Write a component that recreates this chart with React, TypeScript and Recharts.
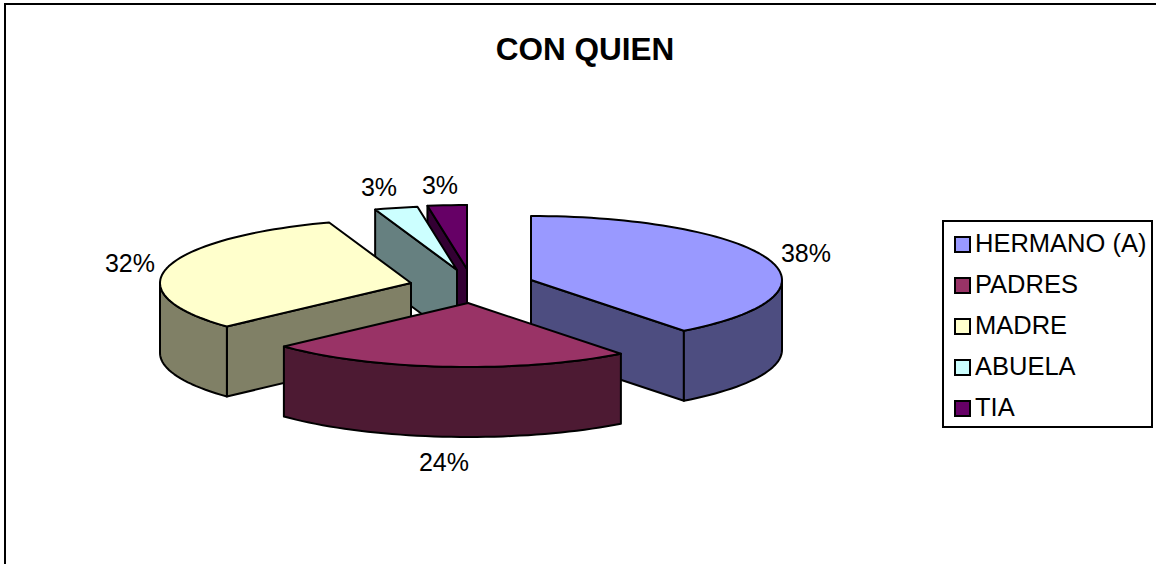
import { Pie, PieChart } from 'recharts'

const categories = ['HERMANO (A)', 'PADRES', 'MADRE', 'ABUELA', 'TIA']
const counts = [13, 8, 11, 1, 1]
const topColors = ['#9999FF', '#993366', '#FFFFCC', '#CCFFFF', '#660066']
const wallColors = ['#4D4D80', '#4D1A33', '#808066', '#668080', '#330033']

// back to front, the pie is flat so the library order is not the depth order
const drawOrder = ['TIA', 'ABUELA', 'MADRE', 'HERMANO (A)', 'PADRES']

const data = categories.map((name, i) => ({
  name,
  value: counts[i],
  fill: topColors[i],
  wall: wallColors[i],
}))

const RY = 64
const DEPTH = 70
const FONT = 'Liberation Sans, Arial, sans-serif'

// how far each slice is pulled out of the pie
const explode: Record<string, [number, number]> = {
  'HERMANO (A)': [63, 12],
  PADRES: [0, 35],
  MADRE: [-57, 15],
  ABUELA: [-11, 2],
  TIA: [-1, 1],
}

const labelAt: Record<string, [number, number]> = {
  'HERMANO (A)': [806, 262],
  PADRES: [444, 471],
  MADRE: [130, 272],
  ABUELA: [379, 196],
  TIA: [440, 194],
}

const rad = (d: number) => (d * Math.PI) / 180

// clockwise from the top, the slices lean a little because of the perspective
const warp = (t: number) => t + 5 * Math.sqrt(Math.abs(Math.sin(rad(t / 2))))

function Slice3D(props: any) {
  const { cx, cy, outerRadius, startAngle, endAngle, name, fill, payload } = props
  const [dx, dy] = explode[name]
  const x0 = cx + dx
  const y0 = cy + dy
  const t0 = warp(90 - startAngle)
  const t1 = warp(90 - endAngle)
  const px = (t: number) => x0 + outerRadius * Math.sin(rad(t))
  const py = (t: number) => y0 - RY * Math.cos(rad(t))
  const arc = (a: number, b: number, off = 0) => {
    const pts: string[] = []
    const n = Math.max(1, Math.ceil((b - a) / 2))
    for (let i = 0; i <= n; i++) {
      const t = a + ((b - a) * i) / n
      pts.push(`${px(t)},${py(t) + off}`)
    }
    return pts
  }
  const radial = (t: number) =>
    `${x0},${y0} ${px(t)},${py(t)} ${px(t)},${py(t) + DEPTH} ${x0},${y0 + DEPTH}`
  const shared = { stroke: '#000', strokeWidth: 2, strokeLinejoin: 'round' as const }
  const wall = payload?.wall ?? props.wall
  const a = Math.max(t0, 90)
  const b = Math.min(t1, 270)
  return (
    <g>
      {Math.sin(rad(t0)) < 0 && <polygon points={radial(t0)} fill={wall} {...shared} />}
      {Math.sin(rad(t1)) > 0 && <polygon points={radial(t1)} fill={wall} {...shared} />}
      {a < b && (
        <polygon
          points={[...arc(a, b), ...arc(a, b, DEPTH).reverse()].join(' ')}
          fill={wall}
          {...shared}
        />
      )}
      <polygon points={[`${x0},${y0}`, ...arc(t0, t1)].join(' ')} fill={fill} {...shared} />
    </g>
  )
}

function LegendBox() {
  return (
    <div
      style={{
        position: 'absolute',
        left: 942,
        top: 220,
        width: 207,
        height: 204,
        border: '2px solid #000',
        background: '#fff',
        fontFamily: FONT,
        fontSize: 25.5,
        color: '#000',
      }}
    >
      {data.map((d, i) => (
        <div
          key={d.name}
          style={{
            position: 'absolute',
            left: 10,
            top: 21 + i * 41 - 15,
            height: 30,
            lineHeight: '30px',
            whiteSpace: 'nowrap',
          }}
        >
          <span
            style={{
              position: 'absolute',
              left: 0,
              top: 8,
              width: 13,
              height: 13,
              border: '2px solid #000',
              background: d.fill,
            }}
          />
          <span style={{ marginLeft: 21 }}>{d.name}</span>
        </div>
      ))}
    </div>
  )
}

export default function App() {
  return (
    <div style={{ position: 'absolute', left: 0, top: 0, width: 1156, height: 564, overflow: 'hidden', background: '#fff' }}>
      <div
        style={{
          position: 'absolute',
          left: 4,
          top: 3,
          width: 1160,
          height: 600,
          borderLeft: '2px solid #000',
          borderTop: '2px solid #000',
        }}
      />
      <div style={{ position: 'absolute', left: 0, top: 0 }}>
        <PieChart width={1156} height={564} margin={{ top: 0, right: 0, bottom: 0, left: 0 }}>
          <text x={585} y={60} textAnchor="middle" fontFamily={FONT} fontSize={31.5} fontWeight="bold" fill="#000">
            CON QUIEN
          </text>
          {drawOrder.map((layer) => (
            <Pie
              key={layer}
              data={data}
              dataKey="value"
              nameKey="name"
              cx={468}
              cy={268}
              outerRadius={251}
              startAngle={90}
              endAngle={-270}
              isAnimationActive={false}
              labelLine={false}
              shape={(p: any) => (p.name === layer ? <Slice3D {...p} /> : <g />)}
              label={(p: any) =>
                p.name === layer ? (
                  <text
                    x={labelAt[layer][0]}
                    y={labelAt[layer][1]}
                    textAnchor="middle"
                    fontFamily={FONT}
                    fontSize={25}
                    fill="#000"
                  >
                    {`${Math.round(p.percent * 100)}%`}
                  </text>
                ) : (
                  <g />
                )
              }
            />
          ))}
        </PieChart>
      </div>
      <LegendBox />
    </div>
  )
}
